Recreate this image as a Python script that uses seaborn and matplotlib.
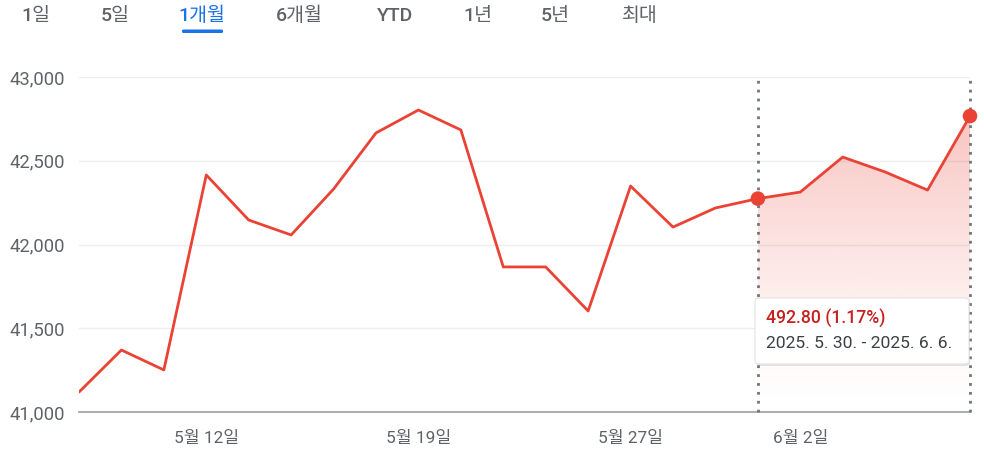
import numpy as np
import pandas as pd
import matplotlib
matplotlib.use("Agg")
import matplotlib.pyplot as plt
import seaborn as sns
from matplotlib.patches import FancyBboxPatch

# ---- data ----
dates = ["5/7", "5/8", "5/9", "5/12", "5/13", "5/14", "5/15", "5/16", "5/19", "5/20",
         "5/21", "5/22", "5/23", "5/27", "5/28", "5/29", "5/30", "6/2", "6/3", "6/4",
         "6/5", "6/6"]
values = [41119, 41370, 41251, 42415, 42146, 42057, 42331, 42666, 42803, 42684,
          41866, 41866, 41603, 42349, 42104, 42218, 42274, 42313, 42522, 42433,
          42325, 42767]
tick_idx = [3, 8, 13, 17]
tick_labels = ["5월 12일", "5월 19일", "5월 27일", "6월 2일"]
y_ticks = [41000, 41500, 42000, 42500, 43000]
tabs = ["1일", "5일", "1개월", "6개월", "YTD", "1년", "5년", "최대"]
tab_x = [36, 115, 202, 299, 395, 478, 555, 640]
sel_start, sel_end = 16, 21
tooltip_main = "492.80 (1.17%)"
tooltip_sub = "2025. 5. 30. - 2025. 6. 6."

RED = "#ea4335"
GREY = "#5f6368"
FONTS = ["Roboto", "Noto Sans CJK KR", "DejaVu Sans"]

sns.set_theme(style="white")
plt.rcParams["font.family"] = FONTS

W, H = 984, 455
fig = plt.figure(figsize=(W / 100, H / 100), dpi=100)
L, R, T, B = 79, 970, 77, 412
ax = fig.add_axes([L / W, 1 - B / H, (R - L) / W, (B - T) / H])

df = pd.DataFrame({"i": np.arange(len(values)), "v": values})
sns.lineplot(data=df, x="i", y="v", ax=ax, color=RED, linewidth=2.0, zorder=4)

ax.set_xlim(0, len(values) - 1)
ax.set_ylim(41000, 43000)

# gradient fill under the selected range
sel = df[(df.i >= sel_start) & (df.i <= sel_end)]
poly = ax.fill_between(sel.i, sel.v, 41000, color="none", lw=0)
g = np.linspace(0, 1, 256)
rgba = np.zeros((256, 1, 4))
rgba[:, 0, 0] = 234 / 255
rgba[:, 0, 1] = 67 / 255
rgba[:, 0, 2] = 53 / 255
rgba[:, 0, 3] = 0.32 * g ** 1.3
img = ax.imshow(rgba, extent=[sel_start, sel_end, 41000, max(values)], origin="lower",
                aspect="auto", zorder=2)
path = poly.get_paths()[0]
img.set_clip_path(path, transform=ax.transData)

# dotted selection lines
for xi in (sel_start, sel_end):
    ax.plot([xi, xi], [41000, 42990], color="#70757a", lw=2, ls=(0, (1, 2.2)),
            zorder=3, solid_capstyle="butt", clip_on=False)
ax.scatter([sel_start, sel_end], [values[sel_start], values[sel_end]], s=110,
           color=RED, zorder=5, edgecolor="none", clip_on=False)

# grid and axes styling
for yt in y_ticks[1:]:
    ax.axhline(yt, color="#eeeff1", lw=1, zorder=0)
for s in ["top", "right", "left"]:
    ax.spines[s].set_visible(False)
ax.spines["bottom"].set_color("#9aa0a6")
ax.spines["bottom"].set_linewidth(1.2)
ax.set_yticks(y_ticks)
ax.set_yticklabels([f"{v:,}" for v in y_ticks], fontsize=13.3, color=GREY)
ax.set_xticks(tick_idx)
ax.set_xticklabels(tick_labels, fontsize=12.4, color=GREY)
ax.tick_params(axis="y", length=0, pad=10)
ax.tick_params(axis="x", length=5, width=1.6, color="#70757a", pad=9, direction="out")
ax.set_xlabel("")
ax.set_ylabel("")
ax.grid(False)

# tooltip
tx0, ty0, tw, th = 755, 298, 214, 66
shadow = FancyBboxPatch(((tx0 + 1) / W, 1 - (ty0 + th + 2) / H), tw / W, th / H,
                        boxstyle="round,pad=0,rounding_size=0.006",
                        transform=fig.transFigure, facecolor="#00000018",
                        edgecolor="none", zorder=9)
fig.patches.append(shadow)
box = FancyBboxPatch((tx0 / W, 1 - (ty0 + th) / H), tw / W, th / H,
                     boxstyle="round,pad=0,rounding_size=0.006",
                     transform=fig.transFigure, facecolor="white",
                     edgecolor="#e3e3e3", lw=0.8, zorder=10)
fig.patches.append(box)
fig.text(766 / W, 1 - 319 / H, tooltip_main, fontsize=12.7, color="#c5221f",
         fontweight="medium", va="center", ha="left", zorder=11)
fig.text(766 / W, 1 - 343 / H, tooltip_sub, fontsize=12.6, color="#3c4043",
         va="center", ha="left", zorder=11)

# tabs
for lab, xc in zip(tabs, tab_x):
    active = lab == "1개월"
    fig.text(xc / W, 1 - 16 / H, lab, fontsize=14, ha="center", va="center",
             color="#1a73e8" if active else GREY, fontweight="medium")
    if active:
        fig.patches.append(FancyBboxPatch((182 / W, 1 - 33 / H), 41 / W, 3.5 / H,
                                          boxstyle="round,pad=0,rounding_size=0.002",
                                          transform=fig.transFigure,
                                          facecolor="#1a73e8", edgecolor="none"))

fig.savefig("out.png", dpi=100)
